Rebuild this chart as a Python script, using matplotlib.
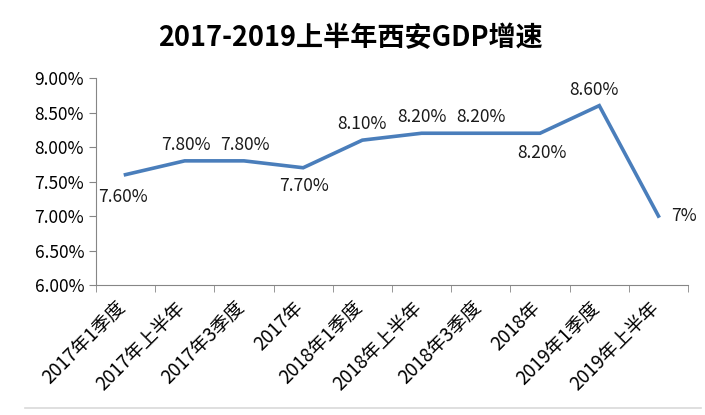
import matplotlib
matplotlib.use("Agg")
import matplotlib.pyplot as plt
import matplotlib.transforms as mtransforms
import numpy as np

plt.rcParams['font.family'] = ['Noto Sans CJK SC', 'DejaVu Sans']

categories = ["2017年1季度", "2017年上半年", "2017年3季度", "2017年",
              "2018年1季度", "2018年上半年", "2018年3季度", "2018年",
              "2019年1季度", "2019年上半年"]
growth = [7.6, 7.8, 7.8, 7.7, 8.1, 8.2, 8.2, 8.2, 8.6, 7.0]
point_labels = ["7.60%", "7.80%", "7.80%", "7.70%", "8.10%",
                "8.20%", "8.20%", "8.20%", "8.60%", "7%"]
yticks = [6.0, 6.5, 7.0, 7.5, 8.0, 8.5, 9.0]

# where each data label sits relative to its point (pixels)
offsets = [(-3, -22), (1, 16), (1, 16), (1, -18), (0, 16),
           (0, 16), (0, 16), (2, -20), (-5, 16), (25, 0)]

fig = plt.figure(figsize=(7.05, 4.15), dpi=100)
ax = fig.add_axes([0.136, 0.313, 0.84, 0.499])

x = np.arange(len(categories))
ax.plot(x, growth, color='#4A7EBB', linewidth=2.6, solid_joinstyle='miter')

for xi, yi, lab, off in zip(x, growth, point_labels, offsets):
    ax.annotate(lab, (xi, yi), xytext=off, textcoords='offset pixels',
                ha='center', va='center', fontsize=12.5, color='#1a1a1a')

ax.set_xlim(-0.5, len(categories) - 0.5)
ax.set_ylim(6.0, 9.0)
ax.set_yticks(yticks)
ax.set_yticklabels(["%.2f%%" % v for v in yticks], fontsize=12.5)

ax.set_xticks(x)
ax.set_xticklabels(categories, rotation=45, ha='right', rotation_mode='anchor',
                   fontsize=13.5)
ax.tick_params(axis='x', length=0, pad=9)
shift = mtransforms.ScaledTranslation(-10 / 100, 0, fig.dpi_scale_trans)
for lbl in ax.get_xticklabels():
    lbl.set_transform(lbl.get_transform() + shift)
ax.set_xticks(np.arange(-0.5, len(categories)), minor=True)
ax.tick_params(axis='x', which='minor', length=5, color='#868686')
ax.tick_params(axis='y', length=5, color='#868686')

for s in ['top', 'right']:
    ax.spines[s].set_visible(False)
for s in ['left', 'bottom']:
    ax.spines[s].set_color('#868686')

fig.text(0.497, 0.908, "2017-2019上半年西安GDP增速", ha='center', va='center',
         fontsize=19.5, fontweight='bold')

# faint frame line at the bottom
fig.add_artist(plt.Line2D([0.035, 0.995], [0.017, 0.017], color='#d9d9d9',
                          linewidth=1.2, transform=fig.transFigure))

fig.savefig("out.png", dpi=100)
